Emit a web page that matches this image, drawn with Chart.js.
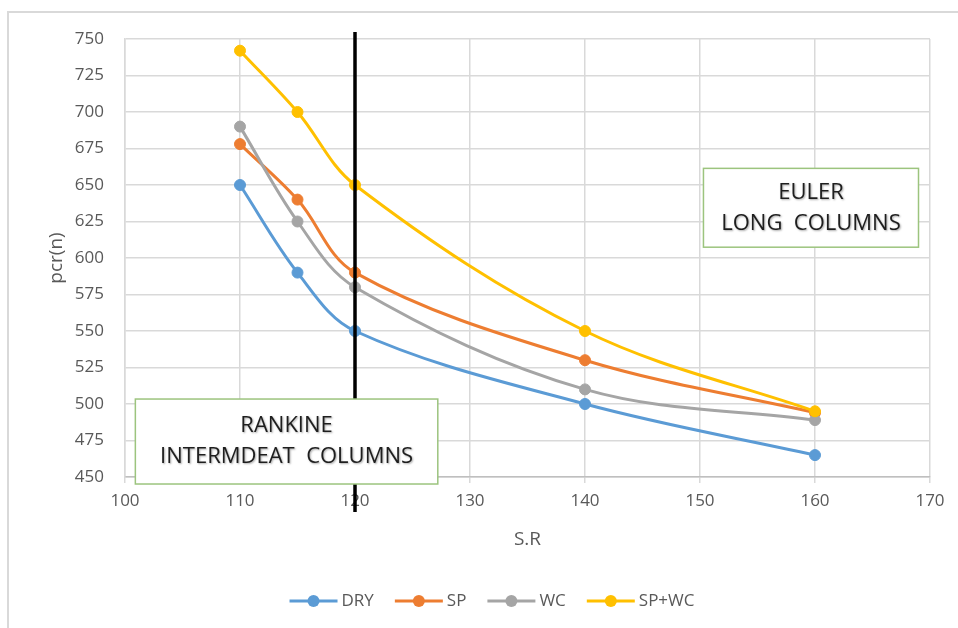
<!DOCTYPE html>
<html><head><meta charset="utf-8">
<script src="https://cdn.jsdelivr.net/npm/chart.js@4.4.0/dist/chart.umd.min.js"></script>
<style>
html,body{margin:0;padding:0;background:#fff;overflow:hidden;}
#wrap{position:absolute;left:0;top:0;width:958px;height:628px;}
#frame{position:absolute;left:7px;top:11px;width:980px;height:660px;border-left:2px solid #d9d9d9;border-top:2px solid #d9d9d9;}
#c{position:absolute;left:0;top:0;}
</style></head><body>
<div id="wrap"><div id="frame"></div><canvas id="c" width="958" height="628"></canvas></div>
<script>
// ---- data ----
const srValues = [110, 115, 120, 140, 160];
const dry  = [650, 590, 550, 500, 465];
const sp   = [678, 640, 590, 530, 494];
const wc   = [690, 625, 580, 510, 489];
const spwc = [742, 700, 650, 550, 495];
const seriesNames = ['DRY', 'SP', 'WC', 'SP+WC'];
const seriesColors = ['#5B9BD5', '#ED7D31', '#A5A5A5', '#FFC000'];
const xAxis = {min: 100, max: 170, step: 10, title: 'S.R'};
const yAxis = {min: 450, max: 750, step: 25, title: 'pcr(n)'};
const dividerSR = 120;
const boxTexts = [
  ['RANKINE', 'INTERMDEAT  COLUMNS'],
  ['EULER', 'LONG  COLUMNS']
];
// box extents in data units (x1, x2, yTop, yBottom)
const boxExtents = [
  [100.9, 127.2, 503.4, 445.2],
  [150.3, 169.0, 661.4, 607.4]
];

const FONT = "'Open Sans', 'Liberation Sans', sans-serif";
const allSeries = [dry, sp, wc, spwc];

const datasets = allSeries.map((vals, i) => ({
  label: seriesNames[i],
  data: srValues.map((x, j) => ({x: x, y: vals[j]})),
  borderColor: seriesColors[i],
  backgroundColor: seriesColors[i],
  pointBackgroundColor: seriesColors[i],
  pointBorderColor: seriesColors[i],
  borderWidth: 3,
  pointRadius: 5.5,
  pointBorderWidth: 1,
  tension: 0.35,
  fill: false,
  order: allSeries.length - i
}));

const overlayPlugin = {
  id: 'overlay',
  afterDatasetsDraw(chart) {
    const {ctx, chartArea, scales} = chart;
    const xs = scales.x, ys = scales.y;
    ctx.save();
    // vertical divider
    const vx = xs.getPixelForValue(dividerSR);
    ctx.strokeStyle = '#000';
    ctx.lineWidth = 3.5;
    ctx.beginPath();
    ctx.moveTo(vx, chartArea.top - 7);
    ctx.lineTo(vx, chartArea.bottom + 35);
    ctx.stroke();
    // boxes
    boxExtents.forEach((b, i) => {
      const x1 = xs.getPixelForValue(b[0]), x2 = xs.getPixelForValue(b[1]);
      const y1 = ys.getPixelForValue(b[2]), y2 = ys.getPixelForValue(b[3]);
      ctx.fillStyle = '#fff';
      ctx.fillRect(x1, y1, x2 - x1, y2 - y1);
      ctx.strokeStyle = '#9cc47e';
      ctx.lineWidth = 1.5;
      ctx.strokeRect(x1, y1, x2 - x1, y2 - y1);
      ctx.save();
      ctx.fillStyle = '#1e1e1e';
      ctx.shadowColor = 'rgba(0,0,0,0.35)';
      ctx.shadowBlur = 2;
      ctx.shadowOffsetX = 1;
      ctx.shadowOffsetY = 1;
      ctx.font = '22px ' + FONT;
      ctx.textAlign = 'center';
      ctx.textBaseline = 'middle';
      const lines = boxTexts[i];
      const lh = 31;
      const cy = (y1 + y2) / 2;
      const cx = (x1 + x2) / 2;
      lines.forEach((t, k) => {
        ctx.fillText(t, cx, cy + (k - (lines.length - 1) / 2) * lh);
      });
      ctx.restore();
    });
    ctx.restore();
  },
  afterDraw(chart) {
    const {ctx} = chart;
    ctx.save();
    ctx.font = '17px ' + FONT;
    const lineLen = 48, gapText = 4, gapItem = 21;
    const widths = seriesNames.map(n => lineLen + gapText + ctx.measureText(n).width);
    const total = widths.reduce((a, b) => a + b, 0) + gapItem * (widths.length - 1);
    let x = 492 - total / 2;
    const y = 601;
    seriesNames.forEach((n, i) => {
      ctx.strokeStyle = seriesColors[i];
      ctx.fillStyle = seriesColors[i];
      ctx.lineWidth = 3;
      ctx.beginPath();
      ctx.moveTo(x, y); ctx.lineTo(x + lineLen, y);
      ctx.stroke();
      ctx.beginPath();
      ctx.arc(x + lineLen / 2, y, 6, 0, Math.PI * 2);
      ctx.fill();
      ctx.fillStyle = '#595959';
      ctx.textAlign = 'left';
      ctx.textBaseline = 'middle';
      ctx.fillText(n, x + lineLen + gapText, y);
      x += widths[i] + gapItem;
    });
    ctx.restore();
  }
};

new Chart(document.getElementById('c'), {
  type: 'line',
  data: {datasets},
  plugins: [overlayPlugin],
  options: {
    responsive: false,
    animation: false,
    events: [],
    layout: {padding: {top: 39, right: 28, bottom: 71, left: 0}},
    plugins: {legend: {display: false}, tooltip: {enabled: false}},
    scales: {
      x: {
        type: 'linear',
        min: xAxis.min, max: xAxis.max,
        ticks: {stepSize: xAxis.step, color: '#595959', font: {family: FONT, size: 17}, padding: 8},
        grid: {color: '#d9d9d9', lineWidth: 1.5, tickLength: 6, drawTicks: true},
        border: {color: '#bfbfbf', width: 1.5},
        title: {display: true, text: xAxis.title, color: '#595959', font: {family: FONT, size: 19}, padding: {top: 0, bottom: 5.6}},
        afterFit: s => { s.height = 80; }
      },
      y: {
        min: yAxis.min, max: yAxis.max,
        ticks: {stepSize: yAxis.step, color: '#595959', font: {family: FONT, size: 17}, padding: 21},
        grid: {color: '#d9d9d9', lineWidth: 1.5, drawTicks: false},
        border: {color: '#d9d9d9', width: 1.5},
        title: {display: true, text: yAxis.title, color: '#595959', font: {family: FONT, size: 19}, padding: {top: 45.6, bottom: 0}},
        afterFit: s => { s.width = 125; }
      }
    }
  }
});
</script>
</body></html>
